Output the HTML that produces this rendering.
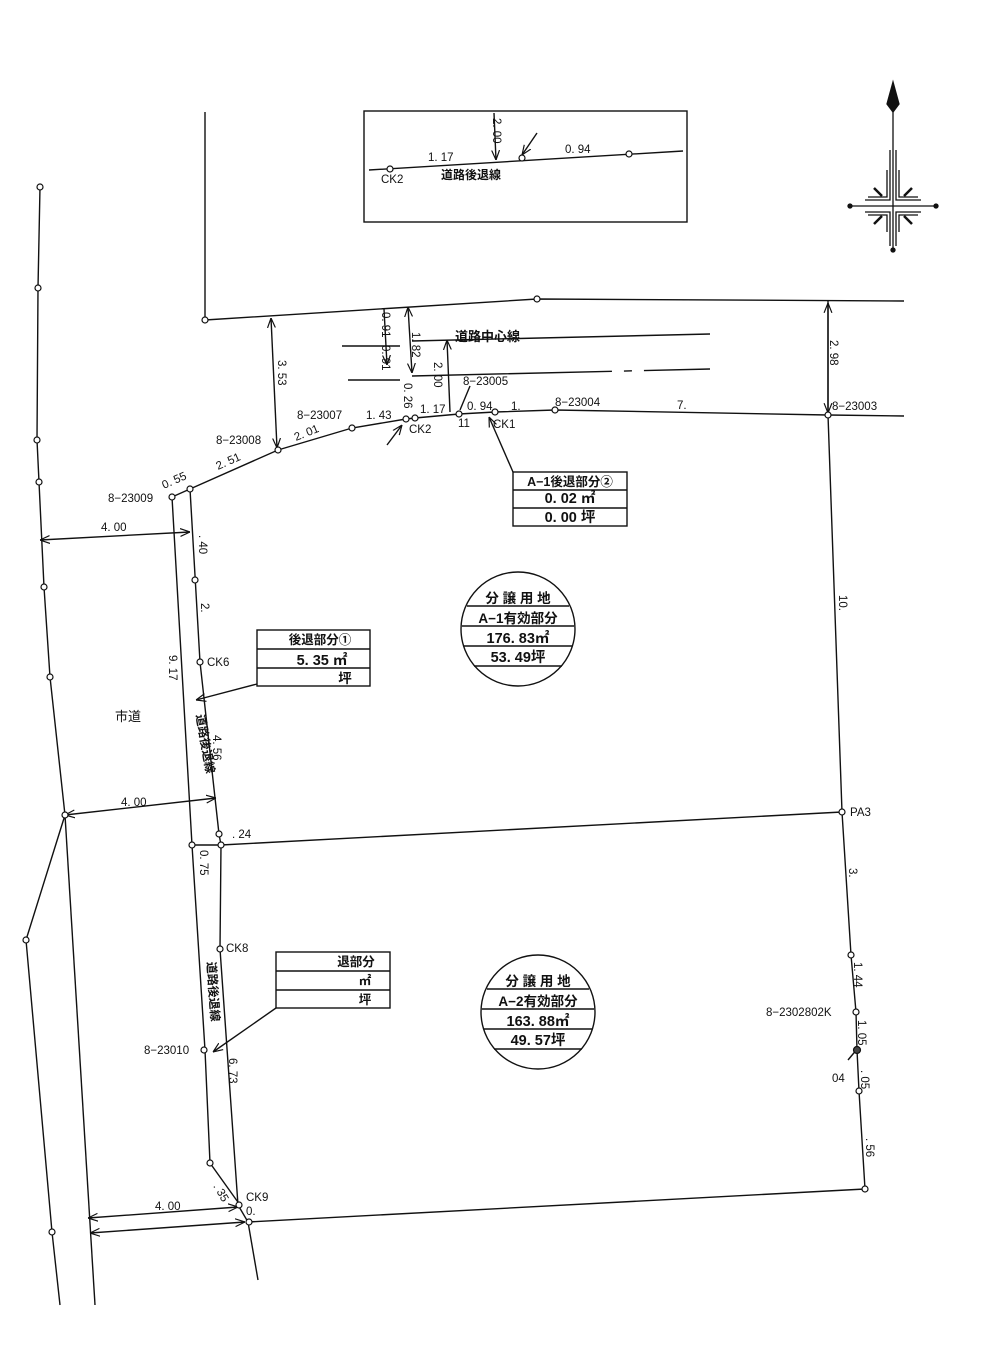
<!DOCTYPE html>
<html><head><meta charset="utf-8"><style>
html,body{margin:0;padding:0;background:#fff}
svg{display:block}
text{font-family:"Liberation Sans","Noto Sans CJK JP",sans-serif;fill:#111}
</style></head><body>
<svg width="986" height="1356" viewBox="0 0 986 1356" xmlns="http://www.w3.org/2000/svg">
<defs>
<marker id="ar" viewBox="0 0 10 10" refX="10" refY="5" markerWidth="7" markerHeight="7" orient="auto-start-reverse"><path d="M0,1 L10,5 L0,9" fill="none" stroke="#111" stroke-width="1.2"/></marker>
</defs>
<g stroke="#111" stroke-width="1.4" fill="none">
<rect x="364" y="111" width="323" height="111"/>
<line x1="369" y1="170" x2="683" y2="151"/>
<line x1="494" y1="113" x2="496" y2="160" marker-end="url(#ar)"/>
<line x1="537" y1="133" x2="522" y2="155" marker-end="url(#ar)"/>
<polyline points="40,187 38,288 37,440 39,482 44,587 50,677 65,815 26,940 52,1232 60,1305"/>
<line x1="65" y1="815" x2="95" y2="1305"/>
<polyline points="172,497 192,845 205,1050 210,1163 240,1205"/>
<polyline points="190,489 200,662 219,834 221,845 220,949 238,1205 248,1222 258,1280"/>
<line x1="172" y1="497" x2="190" y2="489"/>
<line x1="40" y1="540" x2="190" y2="532" marker-start="url(#ar)" marker-end="url(#ar)"/>
<line x1="65" y1="815" x2="216" y2="798" marker-start="url(#ar)" marker-end="url(#ar)"/>
<line x1="88" y1="1218" x2="238" y2="1207" marker-start="url(#ar)" marker-end="url(#ar)"/>
<line x1="90" y1="1233" x2="245" y2="1222" marker-start="url(#ar)" marker-end="url(#ar)"/>
<line x1="205" y1="112" x2="205" y2="320"/>
<polyline points="205,320 537,299 904,301"/>
<polyline points="190,489 278,450 352,428 406,419 415,418 459,414 495,412 555,410 828,415 904,416"/>
<polyline points="828,301 828,415 842,812 851,955 856,1012 857,1050 859,1091 865,1189"/>
<line x1="221" y1="845" x2="842" y2="812"/>
<line x1="248" y1="1222" x2="865" y2="1189"/>
<line x1="192" y1="845" x2="221" y2="845"/>
<line x1="271" y1="318" x2="277" y2="448" marker-start="url(#ar)" marker-end="url(#ar)"/>
<line x1="828" y1="303" x2="828" y2="413" marker-start="url(#ar)" marker-end="url(#ar)"/>
<line x1="384" y1="309" x2="387" y2="365" marker-end="url(#ar)"/>
<line x1="408" y1="307" x2="412" y2="373" marker-start="url(#ar)" marker-end="url(#ar)"/>
<line x1="447" y1="340" x2="450" y2="412" marker-start="url(#ar)"/>
<line x1="342" y1="346" x2="400" y2="346"/>
<line x1="412" y1="341" x2="710" y2="334"/>
<line x1="348" y1="380" x2="400" y2="380"/>
<line x1="412" y1="376" x2="710" y2="369" stroke-dasharray="200 12 8 12"/>
<line x1="470" y1="386" x2="460" y2="410"/>
<line x1="387" y1="445" x2="402" y2="425" marker-end="url(#ar)"/>
<line x1="513" y1="472" x2="489" y2="417" marker-end="url(#ar)"/>
<line x1="257" y1="684" x2="196" y2="700" marker-end="url(#ar)"/>
<line x1="276" y1="1008" x2="213" y2="1052" marker-end="url(#ar)"/>
<line x1="848" y1="1060" x2="858" y2="1048"/>
<rect x="513" y="472" width="114" height="54"/>
<line x1="513" y1="490" x2="627" y2="490"/><line x1="513" y1="508" x2="627" y2="508"/>
<rect x="257" y="630" width="113" height="56"/>
<line x1="257" y1="649" x2="370" y2="649"/><line x1="257" y1="668" x2="370" y2="668"/>
<rect x="276" y="952" width="114" height="56"/>
<line x1="276" y1="971" x2="390" y2="971"/><line x1="276" y1="990" x2="390" y2="990"/>
<circle cx="518" cy="629" r="57"/>
<line x1="467" y1="606" x2="569" y2="606"/><line x1="462" y1="626" x2="574" y2="626"/><line x1="464" y1="646" x2="572" y2="646"/><line x1="474" y1="666" x2="562" y2="666"/>
<circle cx="538" cy="1012" r="57"/>
<line x1="487" y1="989" x2="589" y2="989"/><line x1="482" y1="1009" x2="594" y2="1009"/><line x1="484" y1="1029" x2="592" y2="1029"/><line x1="494" y1="1049" x2="582" y2="1049"/>
</g>
<g stroke="#111" stroke-width="1.2" fill="#fff">
<circle cx="390" cy="169" r="3"/><circle cx="522" cy="158" r="3"/><circle cx="629" cy="154" r="3"/>
<circle cx="40" cy="187" r="3"/><circle cx="38" cy="288" r="3"/><circle cx="37" cy="440" r="3"/><circle cx="39" cy="482" r="3"/><circle cx="44" cy="587" r="3"/><circle cx="50" cy="677" r="3"/><circle cx="65" cy="815" r="3"/><circle cx="26" cy="940" r="3"/><circle cx="52" cy="1232" r="3"/>
<circle cx="205" cy="320" r="3"/><circle cx="537" cy="299" r="3"/>
<circle cx="172" cy="497" r="3"/><circle cx="190" cy="489" r="3"/><circle cx="278" cy="450" r="3"/><circle cx="352" cy="428" r="3"/><circle cx="406" cy="419" r="3"/><circle cx="415" cy="418" r="3"/><circle cx="459" cy="414" r="3"/><circle cx="495" cy="412" r="3"/><circle cx="555" cy="410" r="3"/><circle cx="828" cy="415" r="3"/>
<circle cx="195" cy="580" r="3"/><circle cx="200" cy="662" r="3"/><circle cx="219" cy="834" r="3"/><circle cx="221" cy="845" r="3"/><circle cx="192" cy="845" r="3"/><circle cx="220" cy="949" r="3"/><circle cx="204" cy="1050" r="3"/><circle cx="210" cy="1163" r="3"/><circle cx="239" cy="1205" r="3"/><circle cx="249" cy="1222" r="3"/>
<circle cx="842" cy="812" r="3"/><circle cx="851" cy="955" r="3"/><circle cx="856" cy="1012" r="3"/><circle cx="857" cy="1050" r="3.5" fill="#444"/><circle cx="859" cy="1091" r="3"/><circle cx="865" cy="1189" r="3"/>
</g>
<g stroke="#111" stroke-width="1.3" fill="none">
<line x1="893" y1="108" x2="893" y2="250"/>
<line x1="850" y1="206" x2="936" y2="206"/>
<path d="M893,82 L887,104 L893,112 L899,104 Z" fill="#111"/>
<path d="M890,150 V200 H865 M896,150 V200 H921 M887,170 V197 H868 M899,170 V197 H918 M890,246 V212 H865 M896,246 V212 H921 M887,232 V215 H868 M899,232 V215 H918"/>
<circle cx="850" cy="206" r="2" fill="#111"/><circle cx="936" cy="206" r="2" fill="#111"/><circle cx="893" cy="250" r="2" fill="#111"/>
<path d="M874,188 L882,196 M912,188 L904,196 M874,224 L882,216 M912,224 L904,216" stroke-width="2.5"/>
</g>
<g font-size="11.5">
<text x="428" y="161">1. 17</text><text x="565" y="153">0. 94</text>
<text x="381" y="183">CK2</text>
<text x="441" y="179" font-weight="bold" font-size="12">道路後退線</text>
<text x="455" y="341" font-weight="bold" font-size="13">道路中心線</text>
<text x="463" y="385">8−23005</text>
<text x="297" y="419">8−23007</text><text x="366" y="419">1. 43</text>
<text x="420" y="413">1. 17</text><text x="467" y="410">0. 94</text><text x="511" y="410">1.</text>
<text x="555" y="406">8−23004</text><text x="677" y="409">7.</text><text x="832" y="410">8−23003</text>
<text x="458" y="427">11</text><text x="409" y="433">CK2</text><text x="493" y="428">CK1</text>
<text x="216" y="444">8−23008</text><text x="296" y="441" transform="rotate(-22 296 441)">2. 01</text>
<text x="218" y="470" transform="rotate(-24 218 470)">2. 51</text>
<text x="108" y="502">8−23009</text><text x="164" y="489" transform="rotate(-24 164 489)">0. 55</text>
<text x="101" y="531">4. 00</text><text x="121" y="806">4. 00</text><text x="155" y="1210">4. 00</text>
<text x="207" y="666">CK6</text><text x="226" y="952">CK8</text><text x="246" y="1201">CK9</text><text x="246" y="1215">0.</text>
<text x="144" y="1054">8−23010</text>
<text x="232" y="838">. 24</text>
<text x="850" y="816">PA3</text><text x="766" y="1016">8−2302802K</text><text x="832" y="1082">04</text>
<text x="115" y="721" font-size="13">市道</text>
</g>
<g font-size="11.5">
<text transform="translate(493,118) rotate(90)">2. 00</text>
<text transform="translate(278,360) rotate(90)">3. 53</text>
<text transform="translate(830,340) rotate(90)">2. 98</text>
<text transform="translate(382,312) rotate(90)">0. 91</text>
<text transform="translate(382,345) rotate(90)">0. 91</text>
<text transform="translate(412,332) rotate(90)">1. 82</text>
<text transform="translate(434,362) rotate(90)">2. 00</text>
<text transform="translate(404,383) rotate(90)">0. 26</text>
<text transform="translate(199,535) rotate(90)">. 40</text>
<text transform="translate(201,603) rotate(90)">2.</text>
<text transform="translate(169,655) rotate(90)">9. 17</text>
<text transform="translate(213,735) rotate(90)">4. 56</text>
<text transform="translate(196,715) rotate(80)" font-weight="bold" font-size="12">道路後退線</text>
<text transform="translate(200,850) rotate(90)">0. 75</text>
<text transform="translate(207,962) rotate(86)" font-weight="bold" font-size="12">道路後退線</text>
<text transform="translate(229,1058) rotate(90)">6. 73</text>
<text transform="translate(213,1186) rotate(60)">. 35</text>
<text transform="translate(839,595) rotate(90)">10.</text>
<text transform="translate(849,868) rotate(90)">3.</text>
<text transform="translate(854,962) rotate(90)">1. 44</text>
<text transform="translate(858,1020) rotate(90)">1. 05</text>
<text transform="translate(861,1070) rotate(90)">. 05</text>
<text transform="translate(866,1138) rotate(90)">. 56</text>
</g>
<g font-size="13.5" font-weight="bold" text-anchor="middle">
<text x="570" y="486" font-size="12.5">A−1後退部分②</text>
<text x="570" y="503" font-size="14.5">0. 02 ㎡</text>
<text x="570" y="522" font-size="14.5">0. 00 坪</text>
<text x="320" y="644" font-size="12.5">後退部分①</text>
<text x="322" y="665" font-size="14.5">5. 35 ㎡</text>
<text x="345" y="683">坪</text>
<text x="356" y="966" font-size="12.5">退部分</text>
<text x="365" y="985" font-size="12.5">㎡</text>
<text x="365" y="1004" font-size="12.5">坪</text>
<text x="518" y="603">分 譲 用 地</text>
<text x="518" y="623">A−1有効部分</text>
<text x="518" y="643" font-size="14.5">176. 83㎡</text>
<text x="518" y="662" font-size="14.5">53. 49坪</text>
<text x="538" y="986">分 譲 用 地</text>
<text x="538" y="1006">A−2有効部分</text>
<text x="538" y="1026" font-size="14.5">163. 88㎡</text>
<text x="538" y="1045" font-size="14.5">49. 57坪</text>
</g>
</svg>
</body></html>
